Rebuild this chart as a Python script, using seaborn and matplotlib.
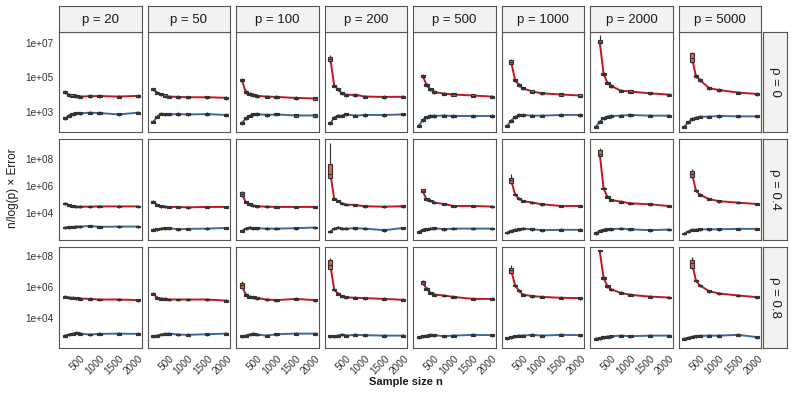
import numpy as np
import pandas as pd
import matplotlib
matplotlib.use("Agg")
import matplotlib.pyplot as plt
import seaborn as sns

# facet levels
P_LEVELS = [20, 50, 100, 200, 500, 1000, 2000, 5000]
RHO_LEVELS = ["0", "0.4", "0.8"]
N_ALL = [100, 200, 300, 400, 500, 750, 1000, 1500, 2000]
RED_FIRST_N = [100, 100, 100, 100, 200, 200, 200, 300]   # red method starts later for big p

# medians, log10 scale, one list per p
red_rho0 = [
    [4.14, 4.00, 3.95, 3.91, 3.89, 3.91, 3.92, 3.89, 3.93],
    [4.30, 4.12, 4.02, 3.95, 3.89, 3.87, 3.85, 3.85, 3.82],
    [4.84, 4.16, 4.04, 3.97, 3.93, 3.89, 3.87, 3.81, 3.78],
    [6.05, 4.52, 4.30, 4.08, 3.99, 3.99, 3.89, 3.87, 3.88],
    [5.08, 4.56, 4.31, 4.15, 4.06, 4.01, 3.95, 3.89],
    [5.87, 4.85, 4.56, 4.37, 4.18, 4.08, 4.01, 3.95],
    [7.06, 5.20, 4.69, 4.50, 4.23, 4.18, 4.08, 4.00],
    [6.10, 5.08, 4.85, 4.37, 4.27, 4.12, 4.04],
]
red_rho04 = [
    [4.72, 4.62, 4.54, 4.49, 4.49, 4.49, 4.51, 4.51, 4.51],
    [4.85, 4.62, 4.52, 4.49, 4.47, 4.47, 4.44, 4.47, 4.47],
    [5.42, 4.84, 4.67, 4.57, 4.52, 4.49, 4.47, 4.47, 4.47],
    [6.95, 5.06, 4.91, 4.74, 4.64, 4.62, 4.52, 4.49, 4.52],
    [5.65, 5.04, 4.94, 4.79, 4.69, 4.54, 4.54, 4.50],
    [6.44, 5.41, 5.09, 4.91, 4.79, 4.67, 4.54, 4.54],
    [8.44, 5.85, 5.23, 4.99, 4.86, 4.74, 4.67, 4.54],
    [6.92, 5.70, 5.38, 5.05, 4.90, 4.79, 4.69],
]
red_rho08 = [
    [5.36, 5.32, 5.30, 5.28, 5.25, 5.23, 5.19, 5.19, 5.15],
    [5.56, 5.30, 5.25, 5.23, 5.19, 5.19, 5.19, 5.19, 5.12],
    [6.10, 5.51, 5.36, 5.34, 5.28, 5.19, 5.15, 5.23, 5.15],
    [7.40, 5.84, 5.56, 5.41, 5.34, 5.30, 5.28, 5.23, 5.17],
    [6.31, 5.88, 5.62, 5.51, 5.45, 5.36, 5.23, 5.23],
    [7.09, 6.10, 5.77, 5.51, 5.41, 5.36, 5.30, 5.28],
    [8.35, 6.60, 6.05, 5.84, 5.62, 5.49, 5.38, 5.32],
    [7.57, 6.42, 6.10, 5.73, 5.58, 5.45, 5.34],
]
blue_rho0 = [
    [2.63, 2.79, 2.88, 2.92, 2.92, 2.96, 2.94, 2.86, 2.96],
    [2.44, 2.73, 2.90, 2.86, 2.86, 2.88, 2.86, 2.88, 2.83],
    [2.36, 2.63, 2.79, 2.86, 2.88, 2.83, 2.86, 2.80, 2.80],
    [2.34, 2.68, 2.79, 2.79, 2.87, 2.79, 2.83, 2.83, 2.86],
    [2.21, 2.54, 2.69, 2.76, 2.78, 2.79, 2.77, 2.77, 2.77],
    [2.21, 2.50, 2.71, 2.82, 2.83, 2.79, 2.79, 2.83, 2.83],
    [2.15, 2.44, 2.63, 2.73, 2.77, 2.79, 2.83, 2.79, 2.79],
    [2.15, 2.40, 2.59, 2.67, 2.73, 2.73, 2.77, 2.75, 2.75],
]
blue_rho04 = [
    [2.94, 2.96, 2.99, 3.01, 3.01, 3.06, 2.99, 3.01, 3.01],
    [2.77, 2.81, 2.86, 2.89, 2.89, 2.81, 2.84, 2.86, 2.91],
    [2.69, 2.86, 2.94, 2.89, 2.89, 2.86, 2.86, 2.89, 2.94],
    [2.64, 2.86, 2.94, 2.86, 2.86, 2.89, 2.86, 2.74, 2.91],
    [2.62, 2.77, 2.81, 2.86, 2.89, 2.81, 2.86, 2.86, 2.86],
    [2.57, 2.69, 2.77, 2.81, 2.86, 2.81, 2.74, 2.77, 2.77],
    [2.52, 2.69, 2.77, 2.81, 2.81, 2.86, 2.81, 2.74, 2.79],
    [2.49, 2.64, 2.77, 2.77, 2.81, 2.81, 2.81, 2.84, 2.84],
]
blue_rho08 = [
    [2.85, 2.92, 2.96, 3.03, 2.98, 2.92, 2.96, 2.98, 2.96],
    [2.81, 2.85, 2.92, 2.96, 2.98, 2.92, 2.90, 2.94, 2.98],
    [2.81, 2.85, 2.92, 2.98, 2.92, 2.85, 2.94, 2.98, 2.98],
    [2.81, 2.81, 2.85, 2.92, 2.85, 2.90, 2.88, 2.85, 2.85],
    [2.75, 2.81, 2.85, 2.90, 2.88, 2.81, 2.85, 2.90, 2.88],
    [2.68, 2.75, 2.81, 2.85, 2.85, 2.90, 2.85, 2.90, 2.88],
    [2.64, 2.68, 2.75, 2.77, 2.81, 2.85, 2.81, 2.85, 2.85],
    [2.64, 2.70, 2.77, 2.81, 2.83, 2.85, 2.85, 2.90, 2.75],
]

# visible big boxes of the first red point: (whisker lo, q1, q3, whisker hi), log10
red_first_box_rho0 = [None, None, None,
                      (5.85, 5.92, 6.20, 6.30), (4.98, 5.02, 5.14, 5.18),
                      (5.70, 5.74, 5.98, 6.05), (6.90, 6.95, 7.17, 7.43),
                      (5.85, 5.90, 6.38, 6.47)]
red_first_box_rho04 = [None, None, (5.20, 5.25, 5.58, 5.62),
                       (6.55, 6.60, 7.70, 9.20), (5.52, 5.55, 5.78, 5.82),
                       (6.20, 6.25, 6.64, 6.89), (8.20, 8.25, 8.69, 8.86),
                       (6.65, 6.72, 7.16, 7.31)]
red_first_box_rho08 = [None, None, (5.88, 5.92, 6.27, 6.38),
                       (7.10, 7.14, 7.78, 7.85), (6.16, 6.18, 6.42, 6.45),
                       (6.85, 6.88, 7.24, 7.42), (8.30, 8.32, 8.40, 8.42),
                       (7.20, 7.24, 7.78, 7.96)]
BOX_HALF = 0.06      # typical small box half height (log10)
WHISKER_HALF = 0.10

RED_ROWS = [red_rho0, red_rho04, red_rho08]
BLUE_ROWS = [blue_rho0, blue_rho04, blue_rho08]
FIRST_BOXES = [red_first_box_rho0, red_first_box_rho04, red_first_box_rho08]

Y_LIMS = [(10**1.83, 10**7.63), (10**2.02, 10**9.5), (10**2.08, 10**8.6)]
Y_TICKS = [[1e3, 1e5, 1e7], [1e4, 1e6, 1e8], [1e4, 1e6, 1e8]]

RED_LINE, BLUE_LINE = "#C4161C", "#3A6B9C"
RED_FILL, BLUE_FILL = "#F0603C", "#4A7DB0"
EDGE = "#555555"


def build_frames():
    box_rows, med_rows = [], []
    for i, rho in enumerate(RHO_LEVELS):
        for j, p in enumerate(P_LEVELS):
            red_n = [n for n in N_ALL if n >= RED_FIRST_N[j]]
            for method, ns, meds in (("red", red_n, RED_ROWS[i][j]),
                                     ("blue", N_ALL, BLUE_ROWS[i][j])):
                for k, (n, m) in enumerate(zip(ns, meds)):
                    if method == "red" and k == 0 and FIRST_BOXES[i][j] is not None:
                        lo, q1, q3, hi = FIRST_BOXES[i][j]
                    else:
                        lo, q1, q3, hi = (m - WHISKER_HALF, m - BOX_HALF,
                                          m + BOX_HALF, m + WHISKER_HALF)
                    for v in (lo, q1, m, q3, hi):
                        box_rows.append((rho, p, method, n, 10**v))
                    med_rows.append((rho, p, method, n, 10**m))
    cols = ["rho", "p", "method", "n", "value"]
    return pd.DataFrame(box_rows, columns=cols), pd.DataFrame(med_rows, columns=cols)


box_df, med_df = build_frames()

sns.set_theme(style="white")
plt.rcParams["font.family"] = ["Liberation Sans", "DejaVu Sans"]

W, H = 793, 397
fig = plt.figure(figsize=(W / 100, H / 100), dpi=100)

col_left0, col_step, col_w = 59.3, 88.5, 82.4
row_top0, row_step, row_h = 31.7, 107.6, 100.6


def frac_box(x, y, w, h):
    return [x / W, 1 - (y + h) / H, w / W, h / H]


def style_strip(sax):
    sax.set_facecolor("#F2F2F2")
    sax.set_xticks([])
    sax.set_yticks([])
    for s in sax.spines.values():
        s.set_color(EDGE)
        s.set_linewidth(0.8)


for i, rho in enumerate(RHO_LEVELS):
    for j, p in enumerate(P_LEVELS):
        x0 = col_left0 + j * col_step
        y0 = row_top0 + i * row_step
        ax = fig.add_axes(frac_box(x0, y0, col_w, row_h))
        ax.set_yscale("log")
        sub_box = box_df[(box_df.rho == rho) & (box_df.p == p)]
        sub_med = med_df[(med_df.rho == rho) & (med_df.p == p)]

        sns.lineplot(data=sub_med, x="n", y="value", hue="method",
                     hue_order=["red", "blue"],
                     palette={"red": RED_LINE, "blue": BLUE_LINE},
                     linewidth=1.4, legend=False, ax=ax, zorder=2)
        sns.boxplot(data=sub_box, x="n", y="value", hue="method",
                    hue_order=["red", "blue"],
                    palette={"red": RED_FILL, "blue": BLUE_FILL},
                    saturation=1, native_scale=True, dodge=False,
                    whis=(0, 100), width=1.1, linecolor="#333333",
                    linewidth=0.85, fliersize=0, showcaps=False,
                    legend=False, ax=ax,
                    boxprops={"zorder": 3}, whiskerprops={"zorder": 3},
                    medianprops={"zorder": 3})

        ax.set_xlim(-45, 2100)
        ax.set_ylim(*Y_LIMS[i])
        ax.set_xticks([500, 1000, 1500, 2000])
        ax.set_yticks(Y_TICKS[i])
        ax.yaxis.set_minor_locator(matplotlib.ticker.NullLocator())
        ax.set_xlabel("")
        ax.set_ylabel("")
        ax.tick_params(axis="both", length=2.5, width=0.6, color="#555555",
                       labelsize=7.2, labelcolor="#333333", pad=1.5)
        if j == 0:
            ax.set_yticklabels(["%.0e" % t for t in Y_TICKS[i]])
        else:
            ax.set_yticklabels([])
        if i == len(RHO_LEVELS) - 1:
            ax.set_xticklabels(["500", "1000", "1500", "2000"], rotation=45,
                               ha="right", rotation_mode="anchor")
        else:
            ax.set_xticklabels([])
            ax.tick_params(axis="x", length=0)
        for s in ax.spines.values():
            s.set_color(EDGE)
            s.set_linewidth(0.8)

        # top strips
        if i == 0:
            sax = fig.add_axes(frac_box(x0, 6, col_w, 25.7))
            style_strip(sax)
            sax.text(0.5, 0.47, f"p = {p}", ha="center", va="center",
                     fontsize=9.5, color="#1A1A1A", transform=sax.transAxes)

    # right strips
    rax = fig.add_axes(frac_box(762.7, row_top0 + i * row_step, 24.6, row_h))
    style_strip(rax)
    rax.text(0.5, 0.5, f"ρ = {rho}", ha="center", va="center", rotation=-90,
             fontsize=9.5, color="#1A1A1A", transform=rax.transAxes)

fig.text(406 / W, 1 - 382 / H, "Sample size n", ha="center", va="center",
         fontsize=8, fontweight="bold", color="#1A1A1A")
fig.text(13 / W, 1 - 188 / H, "n/log(p) × Error", ha="center", va="center",
         rotation=90, fontsize=8.5, color="#1A1A1A")

fig.savefig("out.png", dpi=100)
